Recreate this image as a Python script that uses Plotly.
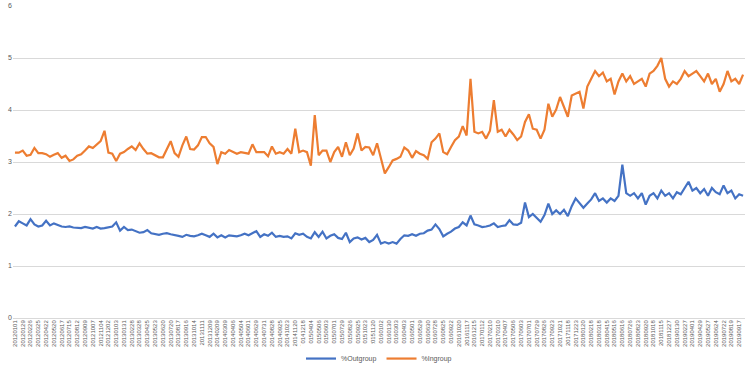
import plotly.graph_objects as go

tick_labels = [
    "20120101", "20120129", "20120226", "20120325", "20120422", "20120520", "20120617", "20120715",
    "20120812", "20120909", "20121007", "20121104", "20121202", "20130103", "20130131", "20130228",
    "20130328", "20130425", "20130523", "20130620", "20130720", "20130817", "20130916", "20131014",
    "20131111", "20131209", "20140209", "20140309", "20140406", "20140504", "20140601", "20140629",
    "20140731", "20140828", "20140925", "20141023", "20141120", "20141218", "20150404", "20150506",
    "20150603", "20150701", "20150729", "20150826", "20150925", "20151023", "20151120", "20160102",
    "20160130", "20160303", "20160403", "20160501", "20160529", "20160630", "20160728", "20160825",
    "20160922", "20161020", "20161117", "20161215", "20170112", "20170210", "20170310", "20170407",
    "20170506", "20170603", "20170701", "20170729", "20170826", "20170923", "20171021", "20171118",
    "20171223", "20180120", "20180218", "20180318", "20180415", "20180516", "20180616", "20180726",
    "20180823", "20180920", "20181018", "20181115", "20181227", "20190130", "20190227", "20190401",
    "20190429", "20190527", "20190624", "20190722", "20190819", "20190917",
]

outgroup = [
    1.76, 1.86, 1.82, 1.78, 1.90, 1.80, 1.76, 1.78, 1.87, 1.78, 1.82, 1.79, 1.76, 1.75, 1.76, 1.74,
    1.74, 1.73, 1.75, 1.73, 1.72, 1.75, 1.72, 1.73, 1.74, 1.76, 1.84, 1.68, 1.75, 1.69, 1.70, 1.67,
    1.64, 1.65, 1.69, 1.63, 1.62, 1.60, 1.62, 1.63, 1.61, 1.60, 1.58, 1.56, 1.60, 1.58, 1.57, 1.59,
    1.62, 1.59, 1.56, 1.62, 1.55, 1.59, 1.55, 1.59, 1.58, 1.57, 1.59, 1.62, 1.59, 1.63, 1.67, 1.56,
    1.61, 1.58, 1.64, 1.56, 1.58, 1.56, 1.57, 1.53, 1.63, 1.60, 1.62, 1.56, 1.53, 1.65, 1.56, 1.66,
    1.53, 1.58, 1.61, 1.54, 1.52, 1.64, 1.46, 1.53, 1.55, 1.51, 1.54, 1.46, 1.50, 1.60, 1.43, 1.46,
    1.43, 1.46, 1.43, 1.52, 1.59, 1.58, 1.61, 1.58, 1.62, 1.63, 1.68, 1.70, 1.80, 1.71, 1.57, 1.62,
    1.66, 1.72, 1.75, 1.84, 1.78, 1.97, 1.80, 1.78, 1.75, 1.76, 1.78, 1.82, 1.75, 1.77, 1.78, 1.88,
    1.80, 1.79, 1.83, 2.22, 1.94, 2.00, 1.92, 1.85, 1.98, 2.20, 2.00, 2.07, 2.00, 2.08, 1.96, 2.15,
    2.30, 2.22, 2.12, 2.20, 2.28, 2.40, 2.25, 2.30, 2.22, 2.30, 2.25, 2.35, 2.95, 2.40, 2.35, 2.40,
    2.30, 2.40, 2.18, 2.35, 2.40, 2.30, 2.45, 2.35, 2.40, 2.30, 2.42, 2.38, 2.50, 2.62, 2.45, 2.50,
    2.40, 2.48, 2.35, 2.50, 2.42, 2.38, 2.55, 2.40, 2.45, 2.30, 2.38, 2.35,
]

ingroup = [
    3.18, 3.18, 3.22, 3.12, 3.14, 3.27, 3.17, 3.17, 3.15, 3.10, 3.14, 3.17, 3.08, 3.12, 3.02, 3.05,
    3.12, 3.15, 3.22, 3.30, 3.27, 3.33, 3.40, 3.60, 3.18, 3.16, 3.02, 3.16, 3.19, 3.25, 3.30, 3.23,
    3.36, 3.25, 3.16, 3.17, 3.13, 3.09, 3.09, 3.25, 3.40, 3.17, 3.10, 3.32, 3.49, 3.25, 3.24, 3.32,
    3.48, 3.48, 3.36, 3.29, 2.96, 3.19, 3.16, 3.23, 3.19, 3.16, 3.19, 3.17, 3.16, 3.34, 3.19, 3.19,
    3.19, 3.11, 3.30, 3.16, 3.19, 3.16, 3.25, 3.16, 3.64, 3.19, 3.22, 3.19, 2.93, 3.90, 3.13, 3.22,
    3.22, 3.00, 3.19, 3.29, 3.10, 3.38, 3.13, 3.26, 3.55, 3.22, 3.29, 3.28, 3.13, 3.36, 3.06, 2.78,
    2.90, 3.03, 3.06, 3.10, 3.28, 3.22, 3.08, 3.21, 3.16, 3.13, 3.06, 3.38, 3.45, 3.55, 3.19, 3.15,
    3.29, 3.42, 3.49, 3.69, 3.51, 4.60, 3.58, 3.55, 3.58, 3.45, 3.60, 4.19, 3.58, 3.62, 3.49, 3.62,
    3.53, 3.42, 3.49, 3.77, 3.92, 3.64, 3.62, 3.45, 3.62, 4.12, 3.87, 4.01, 4.25, 4.06, 3.87, 4.28,
    4.31, 4.35, 4.03, 4.45, 4.60, 4.75, 4.65, 4.72, 4.55, 4.60, 4.30, 4.55, 4.70, 4.55, 4.65, 4.50,
    4.55, 4.60, 4.45, 4.70, 4.75, 4.85, 5.00, 4.60, 4.45, 4.55, 4.50, 4.60, 4.75, 4.65, 4.70, 4.75,
    4.65, 4.55, 4.70, 4.50, 4.60, 4.35, 4.50, 4.75, 4.55, 4.60, 4.50, 4.68,
]

points_per_label = 2
x = list(range(len(ingroup)))
tickvals = [i * points_per_label for i in range(len(tick_labels))]

fig = go.Figure()
fig.add_trace(go.Scatter(x=x, y=outgroup, mode="lines", name="%Outgroup",
                         line=dict(color="#4472C4", width=2.2)))
fig.add_trace(go.Scatter(x=x, y=ingroup, mode="lines", name="%Ingroup",
                         line=dict(color="#ED7D31", width=2.2)))

fig.update_layout(
    width=750, height=367,
    margin=dict(l=13, r=5, t=6, b=49, autoexpand=False),
    paper_bgcolor="white", plot_bgcolor="white",
    font=dict(family="Liberation Sans, Arial, sans-serif", color="#595959", size=7),
    showlegend=True,
    legend=dict(orientation="h", x=0.5, xanchor="center", y=-0.13, yanchor="middle",
                font=dict(size=7, color="#595959"), itemwidth=30, tracegroupgap=0),
    xaxis=dict(range=[-0.5, len(ingroup) - 0.5], tickmode="array", tickvals=tickvals,
               ticktext=tick_labels, tickangle=-90, tickfont=dict(size=6, color="#595959"),
               showgrid=False, zeroline=False, showline=False, ticks="", automargin=False),
    yaxis=dict(range=[0, 6], dtick=1, showgrid=True, gridcolor="#D9D9D9", gridwidth=1,
               zeroline=True, zerolinecolor="#D9D9D9", zerolinewidth=1, showline=False,
               ticks="", tickfont=dict(size=7, color="#595959"), automargin=False),
)

fig.write_html("out.html")
